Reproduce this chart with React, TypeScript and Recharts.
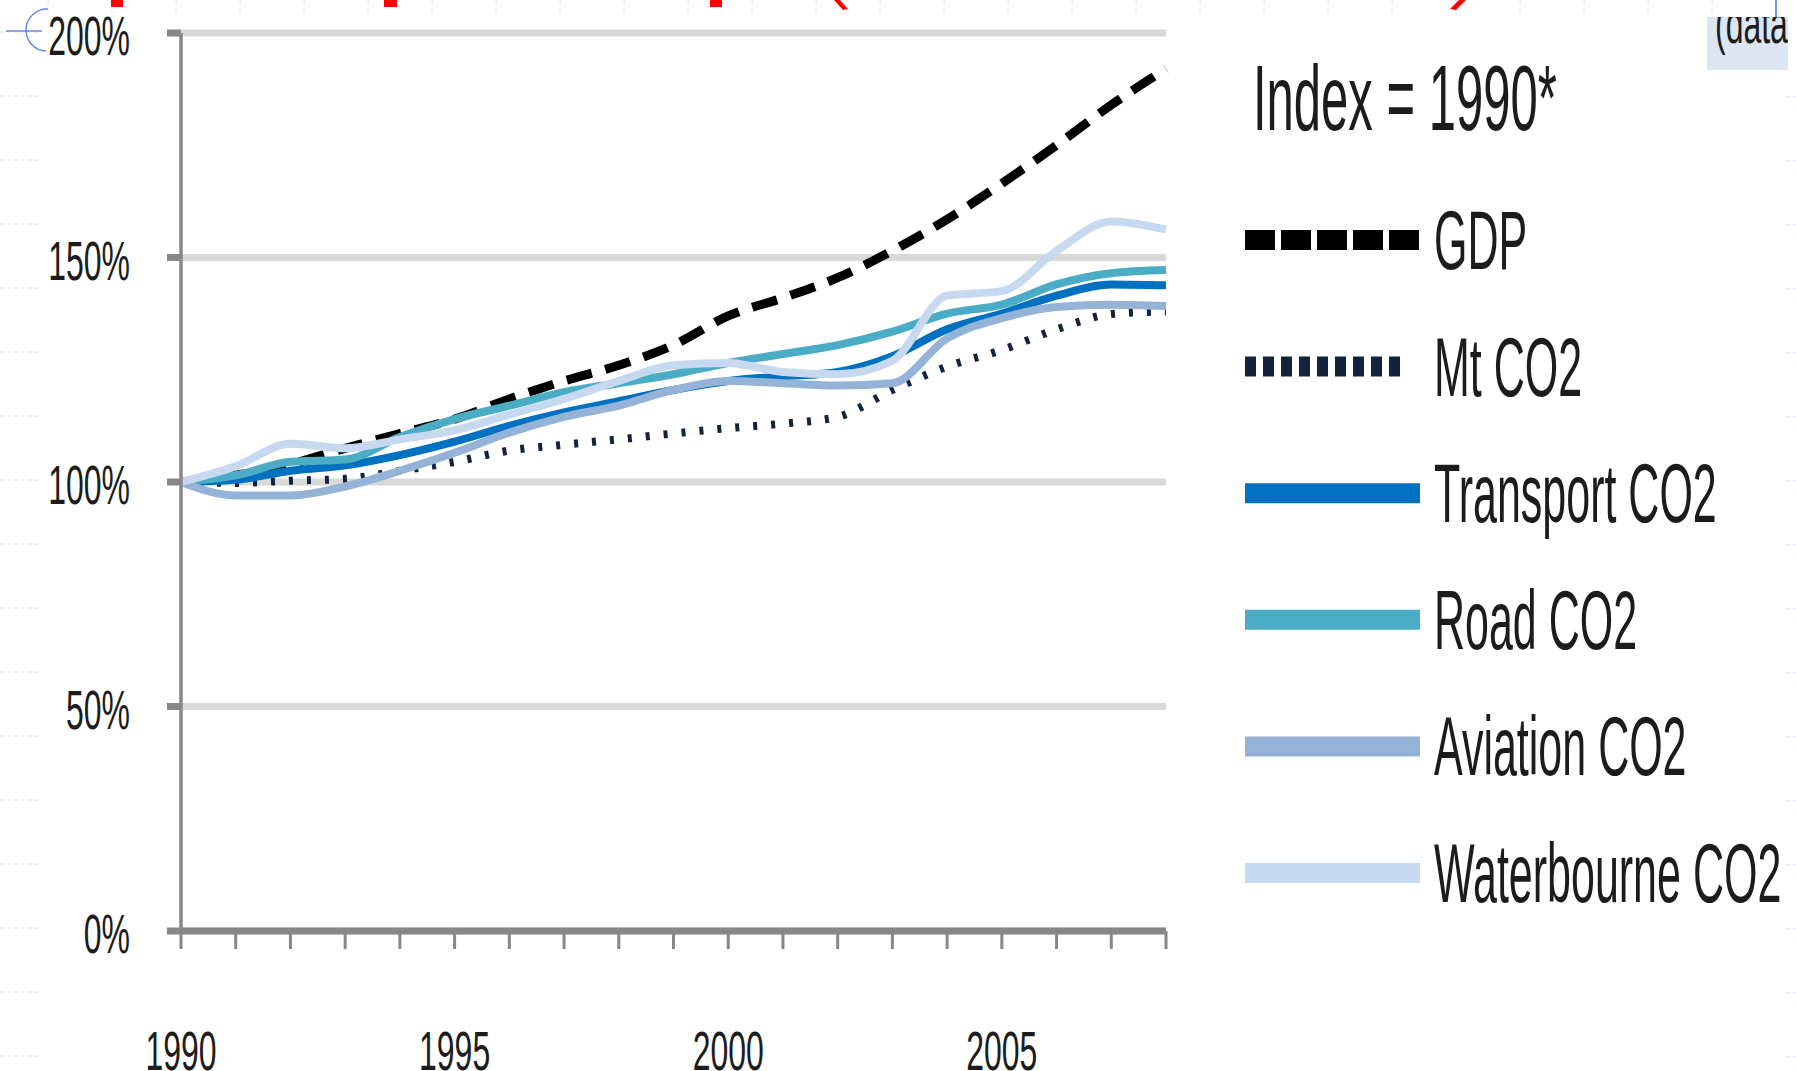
import React from "react";
import { LineChart, Line, XAxis, YAxis, CartesianGrid } from "recharts";

// index values, 1990 = 100
const years = [1990, 1991, 1992, 1993, 1994, 1995, 1996, 1997, 1998, 1999, 2000, 2001, 2002, 2003, 2004, 2005, 2006, 2007, 2008];
const gdp = [100, 101.5, 104, 107.5, 110.8, 114, 118.5, 122.5, 126, 130.5, 137, 141, 145.5, 151.5, 158.5, 166.5, 175, 184, 192];
const mtCo2 = [100, 99.8, 100.3, 100.7, 102.5, 104.5, 107, 108.3, 109.5, 110.8, 112, 113, 114.5, 120.5, 125.7, 129.4, 134, 137.4, 138];
const transportCo2 = [100, 100.5, 102.5, 103.7, 106, 109, 112.5, 115.5, 118, 120.5, 122.5, 123.5, 124.5, 128, 134, 137.5, 141.5, 144, 143.8];
const roadCo2 = [100, 101.5, 104.5, 105, 110, 114, 117, 120, 122, 124, 126.5, 128.5, 130.5, 133.5, 137.5, 139.5, 144, 146.5, 147.2];
const aviationCo2 = [100, 97, 97, 99, 102.5, 106.5, 111, 114.5, 117, 120.5, 122.5, 122, 121.5, 122, 132, 136.5, 139, 139.5, 139.2];
const waterbourneCo2 = [100, 103.5, 108.5, 107.5, 109.5, 111.5, 115, 118.5, 122.5, 126, 126.5, 124.5, 124, 127, 141.5, 142.5, 151.5, 158, 156.2];

const yTicks = [0, 50, 100, 150, 200];
const labelledYears = [1990, 1995, 2000, 2005];
const legendTitle = "Index = 1990*";

const series = [
  { key: "gdp", name: "GDP", values: gdp, color: "#000000", width: 9, dash: "26 14", legendDash: "30 6" },
  { key: "mt", name: "Mt CO2", values: mtCo2, color: "#12233D", width: 8, dash: "4 14", legendDash: "11 7" },
  { key: "transport", name: "Transport CO2", values: transportCo2, color: "#0070C0", width: 8 },
  { key: "road", name: "Road CO2", values: roadCo2, color: "#4BACC6", width: 8 },
  { key: "aviation", name: "Aviation CO2", values: aviationCo2, color: "#95B3D7", width: 8 },
  { key: "water", name: "Waterbourne CO2", values: waterbourneCo2, color: "#C6D9F1", width: 8 },
];

const data = years.map((year, i) => {
  const row: Record<string, number> = { year };
  series.forEach((s) => (row[s.key] = s.values[i]));
  return row;
});

const FONT = "'Liberation Sans', Arial, sans-serif";
const TEXT = "#1c1c1c";
const AXIS = "#878787";

function YTick({ x, y, payload }: any) {
  return (
    <g transform={`translate(${x},${y})`}>
      <text transform="scale(1,1.75)" y={12.6} textAnchor="end" fontFamily={FONT} fontSize={32} fill={TEXT}>
        {payload.value}%
      </text>
    </g>
  );
}

function XTick({ x, y, payload }: any) {
  if (!labelledYears.includes(payload.value)) return <g />;
  return (
    <g transform={`translate(${x},${y})`}>
      <text transform="scale(1,1.75)" y={68} textAnchor="middle" fontFamily={FONT} fontSize={32} fill={TEXT}>
        {payload.value}
      </text>
    </g>
  );
}

function Legend() {
  return (
    <svg width={551} height={1071} style={{ position: "absolute", left: 1245, top: 0 }}>
      <text transform="translate(8,130) scale(1,1.91)" fontFamily={FONT} fontSize={49} fill={TEXT}>
        {legendTitle}
      </text>
      {series.map((s, i) => {
        const cy = 240 + i * 126.6;
        return (
          <g key={s.key}>
            <line
              x1={0}
              x2={s.legendDash ? (s.key === "mt" ? 162 : 175) : 175}
              y1={cy}
              y2={cy}
              stroke={s.color}
              strokeWidth={20}
              strokeDasharray={s.legendDash}
            />
            <text transform={`translate(189,${cy + 29}) scale(1,1.95)`} fontFamily={FONT} fontSize={43} fill={TEXT}>
              {s.name}
            </text>
          </g>
        );
      })}
    </svg>
  );
}

function Decorations() {
  const leftDashes = [];
  for (let y = 32; y < 1071; y += 64) leftDashes.push(y);
  const topDashes = [];
  for (let x = 48; x < 1780; x += 64) topDashes.push(x);
  return (
    <svg width={1796} height={1071} style={{ position: "absolute", left: 0, top: 0 }}>
      {leftDashes.map((y) => (
        <line key={"l" + y} x1={0} x2={42} y1={y} y2={y} stroke="#D3DCF7" strokeWidth={1} strokeDasharray="4 3" />
      ))}
      {leftDashes.slice(1).map((y) => (
        <line key={"r" + y} x1={1786} x2={1796} y1={y + 1} y2={y + 1} stroke="#D3DCF7" strokeWidth={1} strokeDasharray="4 3" />
      ))}
      {topDashes.map((x) => (
        <line key={"t" + x} x1={x} x2={x} y1={0} y2={15} stroke="#D3DCF7" strokeWidth={1} strokeDasharray="4 3" />
      ))}
      {/* cut-off red title */}
      <rect x={111} y={0} width={12} height={7} fill="#FF0000" />
      <rect x={384} y={0} width={13} height={7} fill="#FF0000" />
      <rect x={710} y={0} width={12} height={7} fill="#FF0000" />
      <path d="M834,0 L840,0 L848,9 L843,10 Z" fill="#FF0000" />
      <path d="M1459,0 L1466,0 L1456,10 L1450,9 Z" fill="#FF0000" />
      {/* crosshair */}
      <path d="M48,9 A21,21 0 0 0 46,51" fill="none" stroke="#6A86F0" strokeWidth={1.5} />
      <line x1={6} x2={42} y1={31} y2={31} stroke="#6A86F0" strokeWidth={1.5} />
      {/* top right box */}
      <line x1={1776} x2={1776} y1={0} y2={17} stroke="#7B93F5" strokeWidth={2} />
      <defs>
        <clipPath id="boxclip">
          <rect x={1707} y={17} width={81} height={53} />
        </clipPath>
      </defs>
      <rect x={1707} y={17} width={81} height={53} fill="#DCE6F1" />
      <g clipPath="url(#boxclip)">
        <text transform="translate(1715,43) scale(1,1.75)" fontFamily={FONT} fontSize={32} fill={TEXT}>
          (data
        </text>
      </g>
    </svg>
  );
}

export default function App() {
  return (
    <div style={{ position: "absolute", left: 0, top: 0, width: 1796, height: 1071, background: "#fff", overflow: "hidden" }}>
      <Decorations />
      <div style={{ position: "absolute", left: 0, top: 0 }}>
        <LineChart width={1796} height={1071} data={data} margin={{ top: 33, right: 630, bottom: 100, left: 121 }}>
          <CartesianGrid vertical={false} stroke="#D9D9D9" strokeWidth={7} />
          <XAxis
            dataKey="year"
            type="number"
            domain={[1990, 2008]}
            ticks={years}
            interval={0}
            height={40}
            axisLine={{ stroke: AXIS, strokeWidth: 7 }}
            tickLine={{ stroke: AXIS, strokeWidth: 3 }}
            tickSize={18}
            tickMargin={2}
            tick={<XTick />}
          />
          <YAxis
            domain={[0, 200]}
            ticks={yTicks}
            interval={0}
            width={60}
            axisLine={{ stroke: AXIS, strokeWidth: 3.5 }}
            tickLine={{ stroke: AXIS, strokeWidth: 7 }}
            tickSize={14}
            tickMargin={37}
            tick={<YTick />}
          />
          {series.map((s) => (
            <Line
              key={s.key}
              dataKey={s.key}
              name={s.name}
              type="monotone"
              stroke={s.color}
              strokeWidth={s.width}
              strokeDasharray={s.dash}
              dot={false}
              activeDot={false}
              isAnimationActive={false}
            />
          ))}
        </LineChart>
      </div>
      <Legend />
    </div>
  );
}
